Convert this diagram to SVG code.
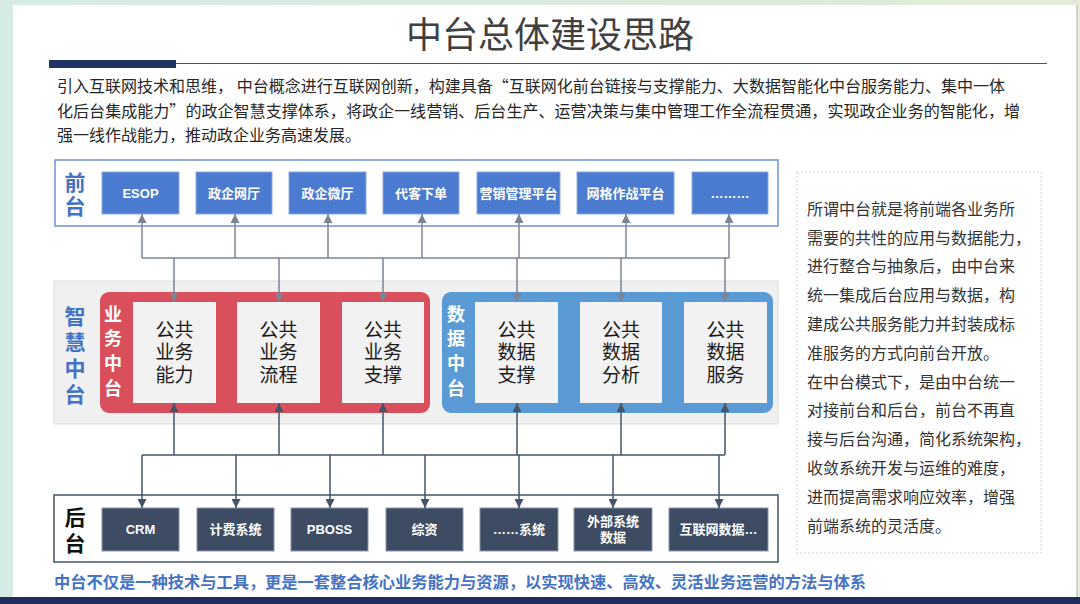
<svg xmlns="http://www.w3.org/2000/svg" width="1080" height="604" viewBox="0 0 1080 604">
<defs>
<linearGradient id="bg" x1="0" y1="0" x2="1" y2="0">
<stop offset="0" stop-color="#d6ebe6"/><stop offset="1" stop-color="#e2ecd8"/>
</linearGradient>
<marker id="ag" viewBox="0 0 10 10" refX="10" refY="5" markerWidth="9" markerHeight="9" markerUnits="userSpaceOnUse" orient="auto"><path d="M0,0 L10,5 L0,10 z" fill="#7b8595"/></marker>
<marker id="ad" viewBox="0 0 10 10" refX="10" refY="5" markerWidth="9" markerHeight="9" markerUnits="userSpaceOnUse" orient="auto"><path d="M0,0 L10,5 L0,10 z" fill="#44546a"/></marker>
<marker id="adr" viewBox="0 0 10 10" refX="0" refY="5" markerWidth="9" markerHeight="9" markerUnits="userSpaceOnUse" orient="auto"><path d="M10,0 L0,5 L10,10 z" fill="#44546a"/></marker>
</defs>
<style>
text{font-family:"Liberation Sans","Noto Sans CJK SC",sans-serif}
.para{font-size:16px;fill:#262626;font-family:"Noto Sans CJK SC","Liberation Sans",sans-serif}
.fb{fill:#4a7bd0;stroke:#8eaadb;stroke-width:1}
.ft{font-size:13px;font-weight:bold;fill:#fff;text-anchor:middle}
.mb{fill:#f2f2f2}
.mt{font-size:19px;fill:#1a1a1a;text-anchor:middle}
.bb{fill:#3d4b63;stroke:#8a96a8;stroke-width:1}
.bt{font-size:13px;font-weight:bold;fill:#fff;text-anchor:middle}
.lab{font-size:21px;font-weight:bold;text-anchor:middle}
.wl{font-size:18px;font-weight:bold;fill:#fff;text-anchor:middle}
.side{font-size:16px;fill:#333}
.cg{fill:none;stroke:#7b8595;stroke-width:1.5}
.cd{fill:none;stroke:#44546a;stroke-width:1.5}
</style>
<rect width="1080" height="604" fill="url(#bg)"/>
<rect x="13" y="5" width="1064" height="594" fill="#fff"/>
<line x1="1077" y1="5" x2="1077" y2="597" stroke="#c9c9c0" stroke-width="1.5"/>
<rect x="0" y="597" width="1080" height="7" fill="#1f2d5a"/>

<g id="title">
<text x="550" y="48" font-size="36" fill="#404040" text-anchor="middle">中台总体建设思路</text>
<rect x="49" y="60" width="127" height="8" fill="#203262"/>
<line x1="176" y1="63.5" x2="1047" y2="63.5" stroke="#44546a" stroke-width="1.2"/>
</g>

<g id="intro">
<text class="para" x="57" y="92" textLength="948" lengthAdjust="spacingAndGlyphs">引入互联网技术和思维， 中台概念进行互联网创新，构建具备“互联网化前台链接与支撑能力、大数据智能化中台服务能力、集中一体</text>
<text class="para" x="57" y="117" textLength="963" lengthAdjust="spacingAndGlyphs">化后台集成能力”的政企智慧支撑体系，将政企一线营销、后台生产、运营决策与集中管理工作全流程贯通，实现政企业务的智能化，增</text>
<text class="para" x="57" y="141">强一线作战能力，推动政企业务高速发展。</text>
</g>

<g id="front-layer">
<rect x="55" y="160" width="723" height="66" fill="#fff" stroke="#6f93d3" stroke-width="1.5"/>
<text class="lab" x="75" y="190" fill="#4472c4">前</text>
<text class="lab" x="75" y="214" fill="#4472c4">台</text>
</g>
<g id="f-esop"><rect class="fb" x="102" y="172" width="77" height="42"/><text class="ft" x="140.5" y="198">ESOP</text></g>
<g id="f-wangting"><rect class="fb" x="196" y="172" width="76" height="42"/><text class="ft" x="234" y="198">政企网厅</text></g>
<g id="f-weiting"><rect class="fb" x="289" y="172" width="77" height="42"/><text class="ft" x="327.5" y="198">政企微厅</text></g>
<g id="f-daike"><rect class="fb" x="383" y="172" width="76" height="42"/><text class="ft" x="421" y="198">代客下单</text></g>
<g id="f-yingxiao"><rect class="fb" x="477" y="172" width="83" height="42"/><text class="ft" x="518.5" y="198">营销管理平台</text></g>
<g id="f-wangge"><rect class="fb" x="577" y="172" width="97" height="42"/><text class="ft" x="625.5" y="198">网格作战平台</text></g>
<g id="f-more"><rect class="fb" x="692" y="172" width="76" height="42"/><text class="ft" x="730" y="198" font-weight="normal">………</text></g>

<g id="middle-layer">
<rect x="54" y="281" width="724" height="143" fill="#f0f0f0" stroke="#dcdcdc" stroke-width="1"/>
<text class="lab" x="75" y="324" fill="#4472c4">智</text>
<text class="lab" x="75" y="350" fill="#4472c4">慧</text>
<text class="lab" x="75" y="376" fill="#4472c4">中</text>
<text class="lab" x="75" y="402" fill="#4472c4">台</text>
</g>
<g id="biz-platform">
<rect x="100" y="292" width="330" height="121" rx="9" fill="#d94f5c"/>
<text class="wl" x="113" y="321">业</text>
<text class="wl" x="113" y="345">务</text>
<text class="wl" x="113" y="370">中</text>
<text class="wl" x="113" y="395">台</text>
</g>
<g id="m-biz1"><rect class="mb" x="133" y="302" width="83" height="101"/><text class="mt" x="174.5" y="337">公共</text><text class="mt" x="174.5" y="359">业务</text><text class="mt" x="174.5" y="382">能力</text></g>
<g id="m-biz2"><rect class="mb" x="237" y="302" width="83" height="101"/><text class="mt" x="278.5" y="337">公共</text><text class="mt" x="278.5" y="359">业务</text><text class="mt" x="278.5" y="382">流程</text></g>
<g id="m-biz3"><rect class="mb" x="342" y="302" width="82" height="101"/><text class="mt" x="383" y="337">公共</text><text class="mt" x="383" y="359">业务</text><text class="mt" x="383" y="382">支撑</text></g>
<g id="data-platform">
<rect x="442" y="292" width="331" height="121" rx="9" fill="#5b9bd5"/>
<text class="wl" x="456" y="321">数</text>
<text class="wl" x="456" y="345">据</text>
<text class="wl" x="456" y="370">中</text>
<text class="wl" x="456" y="395">台</text>
</g>
<g id="m-data1"><rect class="mb" x="475" y="302" width="83" height="101"/><text class="mt" x="516.5" y="337">公共</text><text class="mt" x="516.5" y="359">数据</text><text class="mt" x="516.5" y="382">支撑</text></g>
<g id="m-data2"><rect class="mb" x="580" y="302" width="82" height="101"/><text class="mt" x="621" y="337">公共</text><text class="mt" x="621" y="359">数据</text><text class="mt" x="621" y="382">分析</text></g>
<g id="m-data3"><rect class="mb" x="684" y="302" width="83" height="101"/><text class="mt" x="725.5" y="337">公共</text><text class="mt" x="725.5" y="359">数据</text><text class="mt" x="725.5" y="382">服务</text></g>

<g id="back-layer">
<rect x="54" y="495" width="724" height="67" fill="#fff" stroke="#44546a" stroke-width="1.5"/>
<text class="lab" x="75" y="525" fill="#111">后</text>
<text class="lab" x="75" y="551" fill="#111">台</text>
</g>
<g id="b-crm"><rect class="bb" x="102" y="508" width="77" height="43"/><text class="bt" x="140.5" y="534">CRM</text></g>
<g id="b-jifei"><rect class="bb" x="197" y="508" width="77" height="43"/><text class="bt" x="235.5" y="534">计费系统</text></g>
<g id="b-pboss"><rect class="bb" x="291" y="508" width="77" height="43"/><text class="bt" x="329.5" y="534">PBOSS</text></g>
<g id="b-zongzi"><rect class="bb" x="386" y="508" width="77" height="43"/><text class="bt" x="424.5" y="534">综资</text></g>
<g id="b-sys"><rect class="bb" x="480" y="508" width="78" height="43"/><text class="bt" x="519" y="534" font-weight="normal">……系统</text></g>
<g id="b-ext"><rect class="bb" x="574" y="508" width="78" height="43"/><text class="bt" x="613" y="526">外部系统</text><text class="bt" x="613" y="542">数据</text></g>
<g id="b-net"><rect class="bb" x="669" y="508" width="99" height="43"/><text class="bt" x="718.5" y="534">互联网数据…</text></g>

<g id="connectors">
<path class="cg" d="M142 258 H729"/>
<path class="cg" d="M142 258 V214" marker-end="url(#ag)"/>
<path class="cg" d="M235 258 V214" marker-end="url(#ag)"/>
<path class="cg" d="M328 258 V214" marker-end="url(#ag)"/>
<path class="cg" d="M422 258 V214" marker-end="url(#ag)"/>
<path class="cg" d="M519 258 V214" marker-end="url(#ag)"/>
<path class="cg" d="M626 258 V214" marker-end="url(#ag)"/>
<path class="cg" d="M729 258 V214" marker-end="url(#ag)"/>
<path class="cg" d="M174 258 V302" marker-end="url(#ag)"/>
<path class="cg" d="M279 258 V302" marker-end="url(#ag)"/>
<path class="cg" d="M383 258 V302" marker-end="url(#ag)"/>
<path class="cg" d="M517 258 V302" marker-end="url(#ag)"/>
<path class="cg" d="M621 258 V302" marker-end="url(#ag)"/>
<path class="cg" d="M725 258 V302" marker-end="url(#ag)"/>
<path class="cd" d="M174 403 V455" marker-start="url(#adr)"/>
<path class="cd" d="M279 403 V455" marker-start="url(#adr)"/>
<path class="cd" d="M383 403 V455" marker-start="url(#adr)"/>
<path class="cd" d="M517 403 V455" marker-start="url(#adr)"/>
<path class="cd" d="M621 403 V455" marker-start="url(#adr)"/>
<path class="cd" d="M725 403 V455" marker-start="url(#adr)"/>
<path class="cd" d="M142 455 H725"/>
<path class="cd" d="M142 455 V508" marker-end="url(#ad)"/>
<path class="cd" d="M236 455 V508" marker-end="url(#ad)"/>
<path class="cd" d="M330 455 V508" marker-end="url(#ad)"/>
<path class="cd" d="M425 455 V508" marker-end="url(#ad)"/>
<path class="cd" d="M519 455 V508" marker-end="url(#ad)"/>
<path class="cd" d="M613 455 V508" marker-end="url(#ad)"/>
<path class="cd" d="M719 455 V508" marker-end="url(#ad)"/>
</g>

<g id="side-note">
<rect x="797" y="172" width="244" height="381" fill="#fff" stroke="#cfcfcf" stroke-width="1" stroke-dasharray="2,2"/>
<text class="side" x="807" y="215">所谓中台就是将前端各业务所</text>
<text class="side" x="807" y="244">需要的共性的应用与数据能力，</text>
<text class="side" x="807" y="272">进行整合与抽象后，由中台来</text>
<text class="side" x="807" y="301">统一集成后台应用与数据，构</text>
<text class="side" x="807" y="330">建成公共服务能力并封装成标</text>
<text class="side" x="807" y="359">准服务的方式向前台开放。</text>
<text class="side" x="807" y="388">在中台模式下，是由中台统一</text>
<text class="side" x="807" y="416">对接前台和后台，前台不再直</text>
<text class="side" x="807" y="445">接与后台沟通，简化系统架构，</text>
<text class="side" x="807" y="474">收敛系统开发与运维的难度，</text>
<text class="side" x="807" y="503">进而提高需求响应效率，增强</text>
<text class="side" x="807" y="532">前端系统的灵活度。</text>
</g>

<g id="footer">
<text x="54" y="588" font-size="16" font-weight="bold" fill="#4472c4" textLength="812" lengthAdjust="spacingAndGlyphs">中台不仅是一种技术与工具，更是一套整合核心业务能力与资源，以实现快速、高效、灵活业务运营的方法与体系</text>
</g>
</svg>
